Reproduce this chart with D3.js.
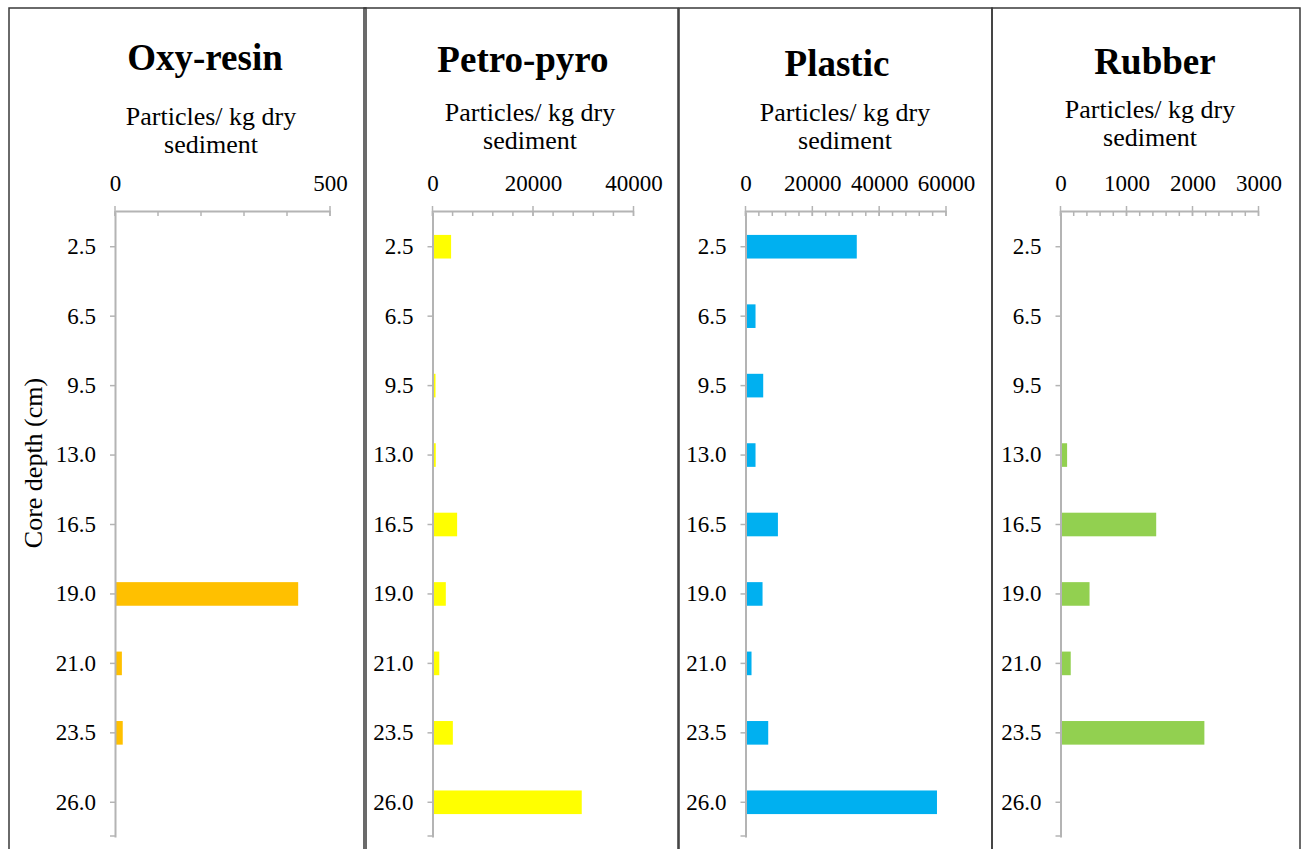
<!DOCTYPE html>
<html><head><meta charset="utf-8">
<script src="https://cdn.jsdelivr.net/npm/d3@7"></script>
<style>
  body { margin: 0; background: #fff; }
  svg text { font-family: "Liberation Serif", "Times New Roman", "DejaVu Serif", serif; }
</style>
</head><body>
<svg id="chart" width="1302" height="849"></svg>
<script>
// Core depth categories (cm), top to bottom
const depths = ["2.5", "6.5", "9.5", "13.0", "16.5", "19.0", "21.0", "23.5", "26.0"];

// Particle counts per kg dry sediment, one array per particle type
const oxyResin  = [0, 0, 0, 0, 0, 426, 16, 18, 0];
const petroPyro = [3700, 200, 600, 650, 4900, 2650, 1350, 4050, 29700];
const plastic   = [33300, 3000, 5300, 3000, 9700, 5100, 1800, 6800, 57300];
const rubber    = [0, 0, 0, 100, 1450, 440, 155, 2180, 0];

const panelTitles = ["Oxy-resin", "Petro-pyro", "Plastic", "Rubber"];
const seriesList  = [oxyResin, petroPyro, plastic, rubber];
const axisMax     = [500, 40000, 60000, 3000];
const majorStep   = [500, 20000, 20000, 1000];
const minorStep   = [100, 4000, 4000, 200];
const barColors   = ["#FFC000", "#FFFF00", "#00B0F0", "#92D050"];
const unitLabel   = ["Particles/ kg dry", "sediment"];
const depthTitle  = "Core depth (cm)";

// Panel geometry
const frames = [[9, 366], [364, 678], [679, 992], [992, 1300]];
const plotX  = [[115, 330], [432.5, 633.5], [745.5, 946], [1060.5, 1258.5]];
const titleX = [205, 523, 837, 1155];
const titleY = [70, 72, 76, 74];
const unitX  = [211, 530, 845, 1150];
const unitY  = [125, 121, 121, 118];
const axisY = 211, axisBottom = 837;
const axisColor = "#b4b4b4";
const serif = "Liberation Serif, Times New Roman, serif";

const svg = d3.select("#chart");

const y = d3.scaleBand().domain(depths).range([axisY + 1, axisBottom]).padding(0);
const barH = y.step() * 0.34;

panelTitles.forEach((title, i) => {
  const g = svg.append("g");
  const [fx0, fx1] = frames[i];

  // Panel frame
  g.append("rect")
    .attr("x", fx0).attr("y", 8)
    .attr("width", fx1 - fx0).attr("height", 860)
    .attr("fill", "none").attr("stroke", "#3a3a3a").attr("stroke-width", 1.5);

  // Title and unit label
  g.append("text").attr("x", titleX[i]).attr("y", titleY[i])
    .attr("text-anchor", "middle").attr("font-size", 37).attr("font-weight", "bold")
    .attr("font-family", serif).attr("fill", "#000").text(title);
  const ut = g.append("text").attr("text-anchor", "middle").attr("font-size", 26)
    .attr("font-family", serif).attr("fill", "#000");
  unitLabel.forEach((line, k) => {
    ut.append("tspan").attr("x", unitX[i]).attr("y", unitY[i] + k * 28).text(line);
  });

  const x = d3.scaleLinear().domain([0, axisMax[i]]).range(plotX[i]);

  // Bars
  g.selectAll("rect.bar").data(seriesList[i].map((v, k) => ({ d: depths[k], v })))
    .join("rect").attr("class", "bar")
    .attr("x", x(0))
    .attr("y", d => y(d.d) + (y.step() - barH) / 2)
    .attr("width", d => x(d.v) - x(0))
    .attr("height", barH)
    .attr("fill", barColors[i]);

  // Value axis on top: minor ticks inside, major ticks crossing
  const minorVals = d3.range(0, axisMax[i] + minorStep[i] / 2, minorStep[i]);
  const majorVals = d3.range(0, axisMax[i] + majorStep[i] / 2, majorStep[i]);
  const xa = g.append("g").attr("transform", `translate(0,${axisY})`);
  xa.call(d3.axisTop(x).tickValues(majorVals).tickSize(0).tickPadding(20).tickFormat(d3.format("d")));
  xa.attr("font-family", serif);
  xa.select(".domain").attr("stroke", axisColor).attr("stroke-width", 2);
  xa.selectAll("text").attr("font-size", 23).attr("font-family", serif).attr("fill", "#000");
  xa.selectAll("line.minor").data(minorVals).join("line").attr("class", "minor")
    .attr("x1", d => x(d)).attr("x2", d => x(d)).attr("y1", 0).attr("y2", 5)
    .attr("stroke", axisColor).attr("stroke-width", 1.5);
  xa.selectAll("line.major").data(majorVals).join("line").attr("class", "major")
    .attr("x1", d => x(d)).attr("x2", d => x(d)).attr("y1", -5).attr("y2", 5)
    .attr("stroke", axisColor).attr("stroke-width", 1.5);

  // Depth axis on the left
  const yAxis = d3.axisLeft(y).tickSize(5).tickPadding(14).tickSizeOuter(0);
  const ya = g.append("g").attr("transform", `translate(${x(0)},0)`).call(yAxis);
  ya.attr("font-family", serif);
  ya.select(".domain").attr("stroke", axisColor).attr("stroke-width", 2);
  ya.selectAll(".tick line").attr("stroke", axisColor).attr("stroke-width", 1.5);
  ya.selectAll("text").attr("font-size", 23).attr("font-family", serif).attr("fill", "#000");
  ya.append("line").attr("x1", -5).attr("x2", 0).attr("y1", axisBottom - 1).attr("y2", axisBottom - 1)
    .attr("stroke", axisColor).attr("stroke-width", 1.5);
});

// Shared depth axis title
svg.append("text")
  .attr("transform", "translate(42,463) rotate(-90)")
  .attr("text-anchor", "middle").attr("font-size", 26).attr("font-family", serif).attr("fill", "#000")
  .text(depthTitle);
</script>
</body></html>
